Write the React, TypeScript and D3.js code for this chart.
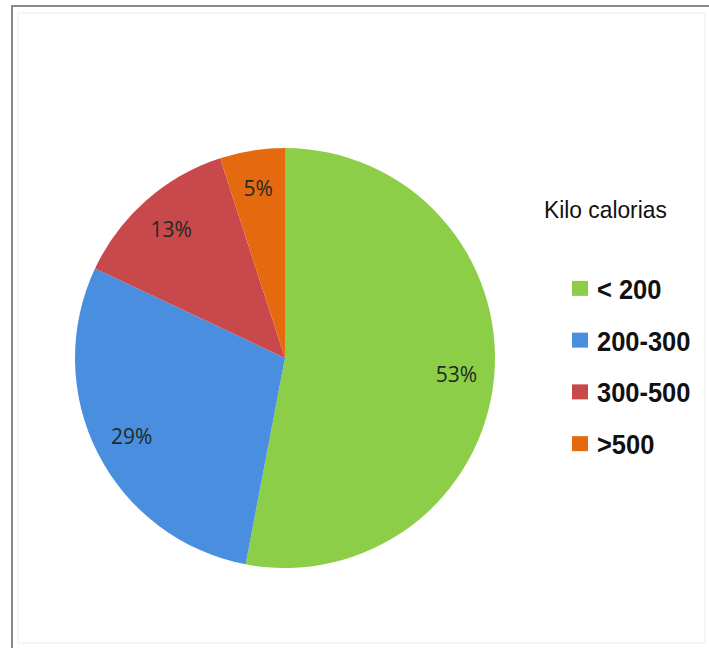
import React from "react";
import * as d3 from "d3";

const categories = ["< 200", "200-300", "300-500", ">500"];
const values = [53, 29, 13, 5];
const colors = ["#8cce48", "#4a8ee0", "#c8494c", "#e5690f"];
const legendTitle = "Kilo calorias";

const W = 709;
const H = 648;

export default function App() {
  const cx = 285;
  const cy = 358;
  const r = 210;
  const pie = d3.pie<number>().sort(null).value((d) => d)(values);
  const arc = d3.arc<d3.PieArcDatum<number>>().innerRadius(0).outerRadius(r);
  const labelArc = d3.arc<d3.PieArcDatum<number>>().innerRadius(r * 0.82).outerRadius(r * 0.82);
  const total = d3.sum(values);

  const legendY = d3.scaleBand<string>().domain(categories).range([263, 470]);

  return (
    <svg width={W} height={H} style={{ position: "absolute", left: 0, top: 0, display: "block" }}>
      <rect x={0} y={0} width={W} height={H} fill="#ffffff" />
      <rect x={18} y={13} width={W - 22} height={H - 18} fill="none" stroke="#ededed" strokeWidth={1} />
      <line x1={11} y1={6} x2={W} y2={6} stroke="#8a8a8a" strokeWidth={2} />
      <line x1={12} y1={5} x2={12} y2={H} stroke="#8a8a8a" strokeWidth={2} />
      <g transform={`translate(${cx},${cy})`}>
        {pie.map((d, i) => (
          <path key={i} d={arc(d) || ""} fill={colors[i]} stroke="none" />
        ))}
        {pie.map((d, i) => {
          const [x, y] = labelArc.centroid(d);
          return (
            <text
              key={"l" + i}
              x={x}
              y={y}
              textAnchor="middle"
              dominantBaseline="central"
              fontFamily="'Open Sans', sans-serif"
              fontSize={21}
              fill="#1f2a22"
            >
              {Math.round((d.value / total) * 100) + "%"}
            </text>
          );
        })}
      </g>
      <text
        transform="translate(544,218) scale(0.95,1)"
        fontFamily="'Liberation Sans', Arial, sans-serif"
        fontSize={24}
        fill="#111"
      >
        {legendTitle}
      </text>
      {categories.map((c, i) => {
        const y = (legendY(c) || 0) + legendY.bandwidth() / 2;
        return (
          <g key={c}>
            <rect x={572} y={y - 8} width={16} height={15} fill={colors[i]} />
            <text
              transform={`translate(597,${y + 10}) scale(0.91,1)`}
              fontFamily="'Liberation Sans', Arial, sans-serif"
              fontWeight="bold"
              fontSize={28}
              fill="#111"
            >
              {c}
            </text>
          </g>
        );
      })}
    </svg>
  );
}
